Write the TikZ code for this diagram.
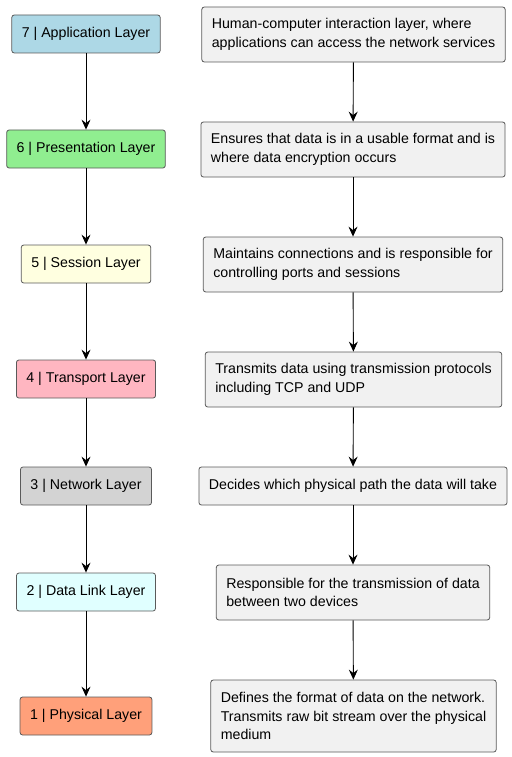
\documentclass[tikz,border=0pt]{standalone}
\usepackage{fontspec}
\setmainfont{Liberation Sans}
\usetikzlibrary{arrows.meta}

\definecolor{appblue}{HTML}{ADD8E6}
\definecolor{presgreen}{HTML}{90EE90}
\definecolor{sessyellow}{HTML}{FFFFE0}
\definecolor{transpink}{HTML}{FFB6C1}
\definecolor{netgray}{HTML}{D3D3D3}
\definecolor{linkcyan}{HTML}{E0FFFF}
\definecolor{physsalmon}{HTML}{FFA07A}
\definecolor{descfill}{HTML}{F1F1F1}
\definecolor{edgegray}{HTML}{5A5A5A}

\begin{document}
\begin{tikzpicture}[
    x=1pt, y=-1pt, font=\fontsize{14.2}{18.5}\selectfont,
    layer/.style={draw=edgegray, line width=0.8pt, rounded corners=2.5pt,
      minimum height=38pt, inner xsep=10pt, inner ysep=2pt},
    desc/.style={layer, fill=descfill, align=left},
    flow/.style={line width=0.9pt, -{Stealth[length=10pt, width=9pt, inset=3.5pt]}}]

    \useasboundingbox (0,0) rectangle (511,757);

    % layers

    \node[layer, fill=appblue] (l7) at (86,34) {7 | Application Layer};
    \node[layer, fill=presgreen] (l6) at (86,149) {6 | Presentation Layer};
    \node[layer, fill=sessyellow] (l5) at (86,264) {5 | Session Layer};
    \node[layer, fill=transpink] (l4) at (86,379) {4 | Transport Layer};
    \node[layer, fill=netgray] (l3) at (86,486) {3 | Network Layer};
    \node[layer, fill=linkcyan] (l2) at (86,592) {2 | Data Link Layer};
    \node[layer, fill=physsalmon] (l1) at (86,716) {1 | Physical Layer};

    % descriptions

    \node[desc, minimum height=55pt] (d7) at (353.5,34.5)
      {Human-computer interaction layer, where\\applications can access the network services};
    \node[desc, minimum height=55pt] (d6) at (353,149.5)
      {Ensures that data is in a usable format and is\\where data encryption occurs};
    \node[desc, minimum height=55pt] (d5) at (353,264.5)
      {Maintains connections and is responsible for\\controlling ports and sessions};
    \node[desc, minimum height=55pt] (d4) at (353.5,379.5)
      {Transmits data using transmission protocols\\including TCP and UDP};
    \node[desc] (d3) at (353,486)
      {Decides which physical path the data will take};
    \node[desc, minimum height=55pt] (d2) at (353,592.5)
      {Responsible for the transmission of data\\between two devices};
    \node[desc, minimum height=72pt] (d1) at (353.5,716)
      {Defines the format of data on the network.\\Transmits raw bit stream over the physical\\medium};

    % edges

    \draw[flow] (l7) to (l6);
    \draw[flow] (l6) to (l5);
    \draw[flow] (l5) to (l4);
    \draw[flow] (l4) to (l3);
    \draw[flow] (l3) to (l2);
    \draw[flow] (l2) to (l1);

    \draw[flow] (d7) to (d6);
    \draw[flow] (d6) to (d5);
    \draw[flow] (d5) to (d4);
    \draw[flow] (d4) to (d3);
    \draw[flow] (d3) to (d2);
    \draw[flow] (d2) to (d1);
  \end{tikzpicture}
\end{document}
